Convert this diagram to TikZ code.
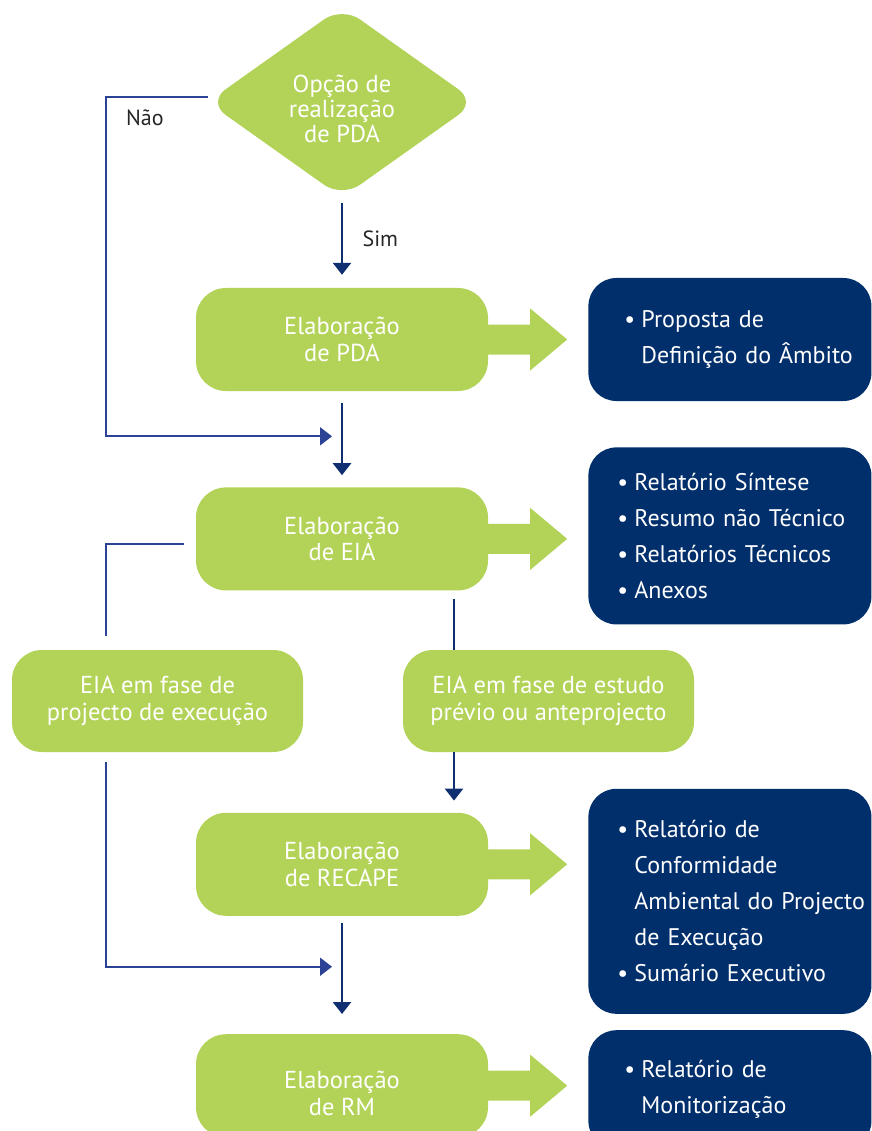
\documentclass[tikz,border=0pt]{standalone}
\usepackage{fontspec}
\setmainfont{PT Sans}
\usepackage{tikz}
\usetikzlibrary{arrows.meta,calc,positioning,shapes.geometric}
\definecolor{leaf}{RGB}{178,211,87}
\definecolor{deepnavy}{RGB}{0,47,108}
\definecolor{flownavy}{RGB}{16,47,112}
\definecolor{railblue}{RGB}{44,66,148}
\newcommand{\pitem}[1]{\mbox{\makebox[17pt][l]{\textbullet}#1}}
\newcommand{\pcont}[1]{\mbox{\hspace*{17pt}#1}}
\tikzstyle{decision}=[
  diamond,
  aspect=1.41,
  align=center,
  fill=leaf,
  font={\fontsize{24.5}{25}\selectfont},
  inner sep=0pt,
  minimum height=191pt,
  minimum width=269pt,
  rounded corners=22pt,
  text=white,
]
\tikzstyle{stage}=[
  rectangle,
  align=center,
  fill=leaf,
  font={\fontsize{24.5}{26.5}\selectfont},
  inner sep=0pt,
  minimum height=103pt,
  minimum width=292pt,
  rounded corners=30pt,
  text=white,
]
\tikzstyle{product}=[
  rectangle,
  align=left,
  anchor=west,
  fill=deepnavy,
  font={\fontsize{24}{36}\selectfont},
  inner ysep=0pt,
  rounded corners=28pt,
  text=white,
]
\tikzstyle{bigarrow}=[
  fill=leaf,
]
\tikzstyle{flow}=[
  color=flownavy,
  line width=2.5pt,
]
\tikzstyle{rail}=[
  color=railblue,
  line width=2pt,
]
\tikzstyle{flowlabel}=[
  color=black!85,
  font={\fontsize{22}{24}\selectfont},
]
\tikzset{
  >={Triangle[width=18pt,length=12pt]},
}
\newcommand{\outarrow}[1]{%
  \fill [bigarrow] ($(#1.east)+(-2,-15)$) -- ($(#1.east)+(42,-15)$)
  -- ($(#1.east)+(42,-31)$) -- ($(#1.east)+(79,0)$)
  -- ($(#1.east)+(42,31)$) -- ($(#1.east)+(42,15)$)
  -- ($(#1.east)+(-2,15)$) -- cycle;}

\begin{document}
\begin{tikzpicture}[x=1pt,y=-1pt]
  \useasboundingbox (0,0) rectangle (871,1131);
  %%
  \node (pda) [stage] at (342,339.5) {Elaboração\\de PDA};
  \node (opt) [decision, above=90pt of pda]
    {\rule{0pt}{32pt}Opção de\\realização\\de PDA};
  \node (eia) [stage, below=96pt of pda] {Elaboração\\de EIA};
  \node (recape) [stage, below=222pt of eia] {Elaboração\\de RECAPE};
  \node (rm) [stage, below=118pt of recape] {\rule{0pt}{33pt}Elaboração\\de RM};
  %%
  \node (exec) [stage, minimum width=291pt, minimum height=102pt] at (157.5,701)
    {EIA em fase de\\projecto de execução};
  \node (study) [stage, minimum width=291pt, minimum height=102pt] at (548.5,701)
    {EIA em fase de estudo\\prévio ou anteprojecto};
  %%
  \outarrow{pda}
  \outarrow{eia}
  \outarrow{recape}
  \outarrow{rm}
  %%
  \node (pdaout) [product, right=100pt of pda, text width=211pt, inner xsep=36pt,
    minimum height=123pt]
    {\pitem{Proposta de}\\\pcont{Definição do Âmbito}};
  \node (eiaout) [product, right=100pt of eia, yshift=3pt, text width=225pt,
    inner xsep=29pt, minimum height=177pt]
    {\pitem{Relatório Síntese}\\\pitem{Resumo não Técnico}\\
     \pitem{Relatórios Técnicos}\\\pitem{Anexos}};
  \node (recapeout) [product, right=100pt of recape, yshift=-37pt, text width=225pt,
    inner xsep=29pt, minimum height=225pt]
    {\pitem{Relatório de}\\\pcont{Conformidade}\\\pcont{Ambiental do Projecto}\\
     \pcont{de Execução}\\\pitem{Sumário Executivo}};
  \node (rmout) [product, right=100pt of rm, yshift=-4pt, text width=211pt,
    inner xsep=36pt, minimum height=119pt]
    {\pitem{Relatório de}\\\pcont{Monitorização}};
  %%
  \coordinate (railL) at (106,0);
  \coordinate (railR) at (454,0);
  \coordinate (joinA) at ($(pda.south)!0.47!(eia.north)$);
  \coordinate (joinB) at ($(recape.south)!0.43!(rm.north)$);
  %%
  \draw [->, flow, shorten <=5pt, shorten >=13pt] (opt.south)
    -- node [flowlabel, right=16pt, yshift=4pt] {Sim} (pda);
  \draw [->, rail] ([xshift=1pt,yshift=5pt]opt.west)
    -| node [flowlabel, below=8pt, pos=0.31] {Não} (railL |- joinA)
    -- ([xshift=-10pt]joinA);
  \draw [->, flow, shorten <=12pt, shorten >=12pt] (pda) -- (eia);
  \draw [rail] ([xshift=-12pt,yshift=-5pt]eia.west)
    -| ([yshift=14pt]railL |- exec.north);
  \draw [flow] ([yshift=-8pt]railR |- eia.south) -- (railR |- study.north);
  \draw [->, flow] (railR |- study.south) -- ([yshift=12pt]railR |- recape.north);
  \draw [->, rail] ([yshift=-10pt]railL |- exec.south) |- ([xshift=-10pt]joinB);
  \draw [->, flow, shorten <=7pt, shorten >=20pt] (recape) -- (rm);
\end{tikzpicture}
\end{document}
